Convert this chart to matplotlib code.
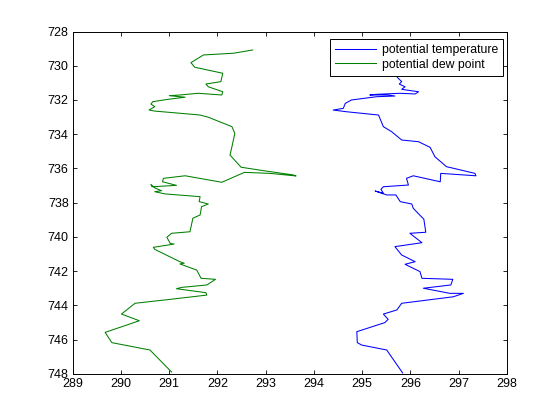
import matplotlib
matplotlib.use("Agg")
import matplotlib.pyplot as plt

# potential temperature (blue)
theta_x = [295.73, 295.82, 295.77, 295.89, 295.82, 296.17, 296.10, 295.79, 295.30, 295.16,
           295.54, 295.68, 295.30, 294.78, 294.65, 294.61, 294.40, 294.68, 295.34, 295.44,
           295.61, 295.82, 296.17, 296.41, 296.51, 296.75, 296.89, 297.34, 297.36, 296.63,
           296.62, 296.06, 295.92, 295.96, 295.44, 295.39, 295.44, 295.27, 295.51, 295.70,
           295.79, 296.03, 296.06, 296.28, 296.32, 295.99, 296.24, 295.68, 295.82, 296.10,
           295.89, 296.20, 296.24, 296.88, 296.84, 296.27, 296.82, 297.10, 296.89, 295.82,
           295.72, 295.44, 295.54, 295.47, 294.89, 294.90, 294.99, 295.51, 295.84]
theta_p = [730.68, 730.93, 731.07, 731.23, 731.38, 731.52, 731.65, 731.61, 731.67, 731.71,
           731.71, 731.77, 731.81, 732.00, 732.20, 732.49, 732.59, 732.69, 732.88, 733.56,
           733.85, 734.34, 734.44, 734.77, 735.32, 735.90, 735.99, 736.29, 736.43, 736.29,
           736.78, 736.43, 736.58, 736.97, 737.07, 737.22, 737.45, 737.32, 737.55, 737.55,
           737.94, 738.08, 738.33, 738.97, 739.73, 739.79, 740.34, 740.57, 741.06, 741.45,
           741.60, 742.03, 742.42, 742.48, 742.81, 743.00, 743.30, 743.30, 743.50, 743.88,
           744.27, 744.51, 744.82, 745.01, 745.54, 746.18, 746.32, 746.61, 747.95]

# potential dew point (green)
dew_x = [292.73, 292.33, 291.71, 291.45, 291.53, 292.11, 292.07, 291.76, 291.81, 292.11,
         292.09, 291.60, 291.22, 291.00, 291.33, 290.98, 290.66, 290.62, 290.70, 290.58,
         290.70, 291.64, 291.81, 292.30, 292.36, 292.30, 292.26, 292.49, 292.95, 293.57,
         293.63, 293.09, 292.56, 292.09, 291.33, 290.88, 290.86, 291.15, 290.64, 290.62,
         290.70, 290.84, 290.70, 290.91, 291.64, 291.62, 291.81, 291.67, 291.64, 291.49,
         291.43, 291.05, 290.95, 291.02, 291.10, 290.67, 290.70, 291.22, 291.31, 291.22,
         291.57, 291.66, 291.96, 291.78, 291.26, 291.15, 291.76, 291.78, 291.02, 290.29,
         290.01, 290.38, 289.67, 289.81, 290.60, 291.05]
dew_p = [729.08, 729.27, 729.37, 729.82, 730.09, 730.44, 730.93, 731.07, 731.23, 731.52,
         731.71, 731.61, 731.71, 731.75, 731.84, 731.96, 732.10, 732.24, 732.39, 732.59,
         732.65, 732.88, 733.01, 733.56, 733.95, 734.73, 735.22, 735.93, 736.13, 736.38,
         736.44, 736.29, 736.23, 736.81, 736.43, 736.58, 736.78, 736.99, 737.07, 736.93,
         737.14, 737.30, 737.36, 737.49, 737.65, 737.94, 738.08, 738.24, 738.72, 738.91,
         739.70, 739.79, 740.02, 740.38, 740.42, 740.61, 740.73, 741.45, 741.54, 741.58,
         741.94, 742.42, 742.48, 742.81, 742.95, 743.03, 743.26, 743.40, 743.65, 743.88,
         744.51, 744.90, 745.58, 746.18, 746.61, 747.90]

x_ticks = list(range(289, 299))
y_ticks = list(range(728, 749, 2))
labels = ["potential temperature", "potential dew point"]

plt.rcParams['font.family'] = ['Liberation Sans', 'DejaVu Sans']
fig = plt.figure(figsize=(5.6, 4.2), dpi=100)
ax = fig.add_axes([0.13, 0.11, 0.775, 0.815])
ax.plot(theta_x, theta_p, color=(0, 0, 1), lw=0.75, label=labels[0])
ax.plot(dew_x, dew_p, color=(0, 0.5, 0), lw=0.75, label=labels[1])
ax.set_xlim(289, 298)
ax.set_ylim(748, 728)
ax.set_xticks(x_ticks)
ax.set_yticks(y_ticks)
ax.tick_params(direction='in', length=3.2, width=0.6, top=True, right=True,
               labelsize=9, colors='black', pad=3)
for s in ax.spines.values():
    s.set_linewidth(0.7)
leg = ax.legend(loc='upper right', bbox_to_anchor=(0.991, 0.977), borderaxespad=0,
                fancybox=False, framealpha=1, edgecolor='black', fontsize=8.8,
                handlelength=3.3, handletextpad=0.5, borderpad=0.4, labelspacing=0.2)
leg.get_frame().set_linewidth(0.7)
fig.savefig("out.png", dpi=100)
